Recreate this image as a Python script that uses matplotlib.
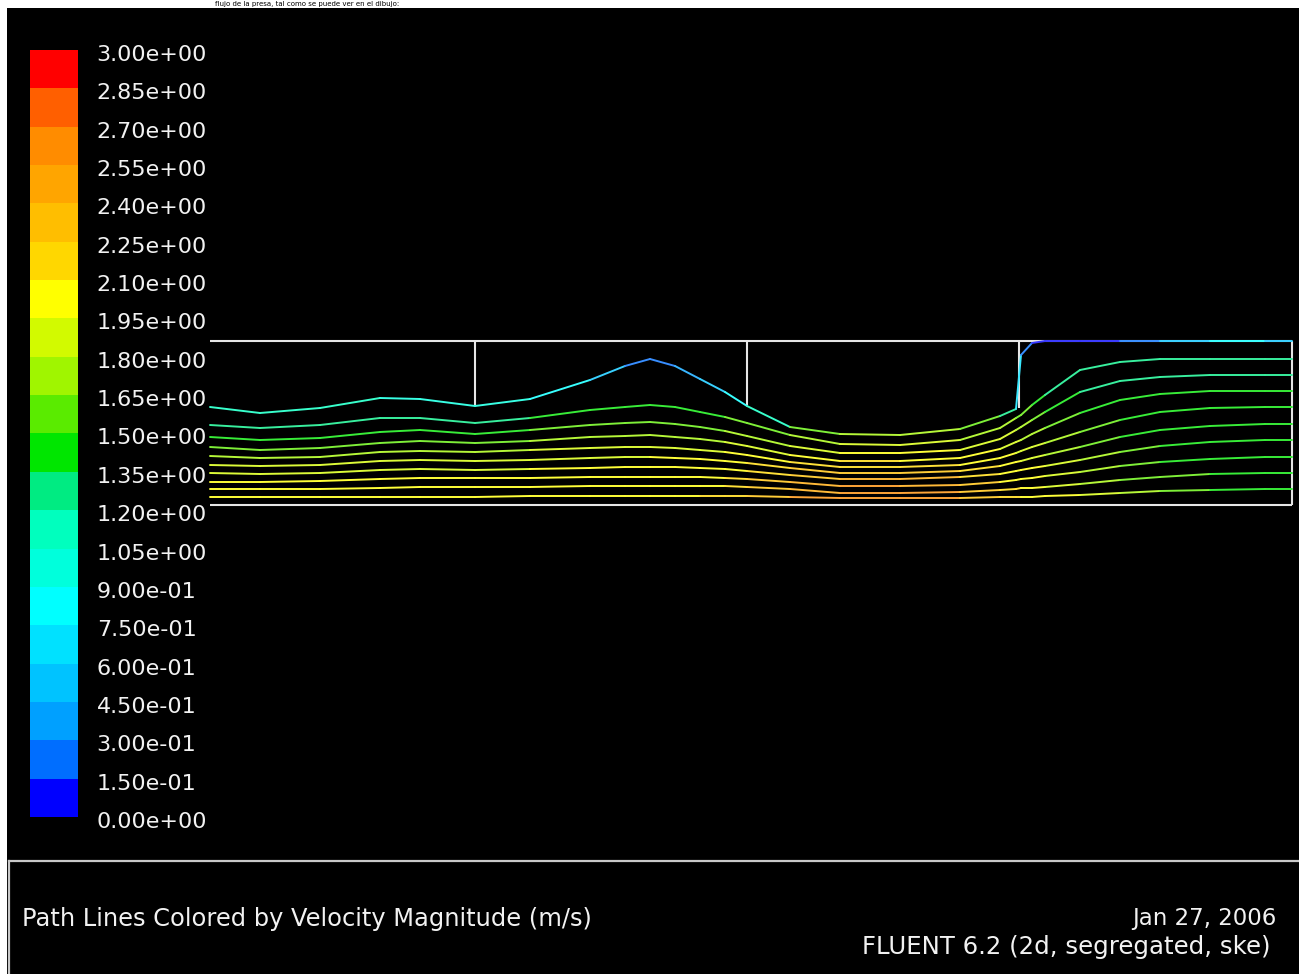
import matplotlib
matplotlib.use("Agg")
import matplotlib.pyplot as plt
import numpy as np
from matplotlib.collections import LineCollection
from matplotlib.colors import ListedColormap, BoundaryNorm, to_rgba_array
from matplotlib.cm import ScalarMappable
from matplotlib.patches import Rectangle
from matplotlib.transforms import ScaledTranslation

# colour bands of the legend, 0.00 -> 3.00 m/s
levels = [0.00, 0.15, 0.30, 0.45, 0.60, 0.75, 0.90, 1.05, 1.20, 1.35, 1.50,
          1.65, 1.80, 1.95, 2.10, 2.25, 2.40, 2.55, 2.70, 2.85, 3.00]
band_colors = ['#0000ff', '#006eff', '#00a0ff', '#00c3ff', '#00e1ff',
               '#00ffff', '#00ffdc', '#00ffbe', '#00eb82', '#00e600',
               '#5aeb00', '#a0f500', '#d2fa00', '#ffff00', '#ffd700',
               '#ffbe00', '#ffa500', '#ff8c00', '#ff5f00', '#ff0000']

# channel geometry [cm]
channel_len = 1082
channel_h = 164
gate_x = [265, 537, 809]
gate_bottom = [100, 100, 97]

# path lines: shared stations along the channel [cm]
x_st = [0, 50, 110, 170, 210, 265, 320, 380, 415, 440, 465, 490, 515, 537, 580,
        630, 690, 750, 790, 806, 811, 822, 835, 870, 910, 950, 1000, 1055, 1082]

y_lines = [
    [98, 92, 97, 107, 106, 99, 106, 125, 139, 146, 139, 126, 113, 99, 78, 71, 70, 76, 89, 96, 150, 162, 164, 164, 164, 164, 164, 164, 164],
    [80, 77, 80, 87, 87, 82, 87, 95, 98, 100, 98, 93, 88, 82, 70, 61, 60, 65, 77, 87, 90, 100, 110, 135, 143, 146, 146, 146, 146],
    [68, 65, 67, 73, 75, 71, 75, 80, 82, 83, 81, 78, 74, 69, 59, 52, 52, 55, 66, 75, 78, 85, 93, 113, 124, 128, 130, 130, 130],
    [58, 55, 57, 62, 64, 62, 64, 68, 69, 70, 68, 66, 63, 59, 50, 44, 44, 47, 56, 63, 65, 71, 77, 92, 105, 111, 114, 114, 114],
    [49, 47, 48, 53, 54, 53, 55, 57, 58, 58, 57, 55, 53, 50, 43, 38, 38, 40, 47, 52, 54, 58, 62, 73, 85, 93, 97, 98, 98],
    [40, 39, 40, 44, 45, 44, 45, 47, 48, 48, 47, 46, 44, 42, 37, 32, 32, 34, 39, 43, 44, 47, 50, 58, 68, 75, 79, 81, 81],
    [32, 31, 32, 35, 36, 35, 36, 37, 38, 38, 38, 37, 36, 34, 30, 26, 26, 28, 31, 34, 35, 37, 39, 45, 53, 59, 63, 65, 65],
    [23, 23, 24, 26, 27, 27, 27, 28, 28, 28, 28, 28, 27, 26, 23, 19, 19, 20, 23, 25, 26, 27, 29, 33, 39, 43, 46, 48, 48],
    [16, 16, 16, 17, 18, 18, 18, 19, 19, 19, 19, 19, 19, 18, 16, 12, 12, 13, 15, 16, 17, 17, 18, 21, 25, 28, 31, 32, 32],
    [8, 8, 8, 8, 8, 8, 9, 9, 9, 9, 9, 9, 9, 9, 8, 7, 7, 7, 8, 8, 8, 8, 9, 10, 12, 14, 15, 16, 16],
]

# velocity magnitude along each path line [m/s]
v_lines = [
    [1.15, 1.1, 1.1, 1.0, 1.0, 1.05, 0.9, 0.6, 0.35, 0.2, 0.25, 0.4, 0.65, 0.9, 1.3, 1.7, 1.75, 1.7, 1.4, 1.0, 0.3, 0.15, 0.1, 0.1, 0.1, 0.2, 0.85, 0.85, 0.3],
    [1.35, 1.3, 1.3, 1.25, 1.25, 1.3, 1.35, 1.4, 1.4, 1.4, 1.42, 1.45, 1.5, 1.55, 1.7, 1.85, 1.9, 1.8, 1.7, 1.6, 1.55, 1.45, 1.35, 1.25, 1.2, 1.2, 1.2, 1.2, 1.2],
    [1.45, 1.45, 1.45, 1.45, 1.45, 1.45, 1.5, 1.55, 1.58, 1.6, 1.6, 1.6, 1.65, 1.7, 1.85, 2.0, 2.0, 1.95, 1.85, 1.75, 1.7, 1.6, 1.5, 1.35, 1.3, 1.3, 1.3, 1.3, 1.3],
    [1.55, 1.55, 1.55, 1.55, 1.55, 1.6, 1.65, 1.7, 1.72, 1.75, 1.75, 1.75, 1.8, 1.85, 2.0, 2.1, 2.15, 2.05, 1.95, 1.85, 1.8, 1.75, 1.65, 1.45, 1.35, 1.35, 1.35, 1.35, 1.35],
    [1.7, 1.7, 1.7, 1.7, 1.7, 1.75, 1.8, 1.85, 1.85, 1.85, 1.88, 1.9, 1.95, 2.0, 2.1, 2.2, 2.25, 2.15, 2.0, 1.95, 1.9, 1.85, 1.8, 1.6, 1.45, 1.4, 1.38, 1.38, 1.38],
    [1.85, 1.85, 1.85, 1.85, 1.85, 1.85, 1.9, 1.9, 1.92, 1.95, 1.95, 1.95, 2.0, 2.05, 2.2, 2.3, 2.35, 2.2, 2.05, 2.0, 1.95, 1.9, 1.85, 1.7, 1.5, 1.42, 1.4, 1.4, 1.4],
    [1.9, 1.9, 1.9, 1.9, 1.9, 1.9, 1.95, 1.95, 1.98, 2.0, 2.0, 2.0, 2.05, 2.1, 2.3, 2.45, 2.5, 2.3, 2.1, 2.05, 2.0, 2.0, 1.9, 1.75, 1.6, 1.45, 1.42, 1.42, 1.42],
    [1.95, 1.95, 1.95, 1.95, 1.95, 1.95, 2.0, 2.0, 2.0, 2.0, 2.02, 2.05, 2.1, 2.15, 2.4, 2.55, 2.6, 2.4, 2.15, 2.05, 2.05, 2.0, 1.95, 1.8, 1.65, 1.5, 1.45, 1.45, 1.45],
    [2.0, 2.0, 2.0, 2.0, 2.0, 2.0, 2.0, 2.0, 2.02, 2.05, 2.05, 2.05, 2.12, 2.2, 2.45, 2.6, 2.65, 2.45, 2.2, 2.1, 2.1, 2.05, 2.0, 1.85, 1.7, 1.55, 1.45, 1.45, 1.45],
    [2.0, 2.0, 2.0, 2.0, 2.0, 2.0, 2.0, 2.05, 2.05, 2.05, 2.08, 2.1, 2.17, 2.25, 2.5, 2.65, 2.7, 2.5, 2.25, 2.15, 2.1, 2.05, 2.0, 1.9, 1.75, 1.6, 1.5, 1.45, 1.45],
]

W, H = 1299, 974
fig = plt.figure(figsize=(W / 100, H / 100), dpi=100, facecolor='white')
text_col = '#f2f2f2'

# caption of the page above the screenshot (only a thin strip is left)
fig.text(215 / W, 1 - 4 / H, 'flujo de la presa, tal como se puede ver en el dibujo:',
         color='black', fontsize=5, va='center', ha='left')

# black graphics window
fig.add_artist(Rectangle((7 / W, 0), 1 - 7 / W, 1 - 8 / H, transform=fig.transFigure,
                         facecolor='black', edgecolor='none', zorder=-1))
# frame of the title box at the bottom
fig.add_artist(plt.Line2D([9 / W, 1], [1 - 861 / H, 1 - 861 / H], color='#c8c8c8',
                          lw=1.6, transform=fig.transFigure))
fig.add_artist(plt.Line2D([9 / W, 9 / W], [0, 1 - 861 / H], color='#c8c8c8',
                          lw=1.6, transform=fig.transFigure))

cmap = ListedColormap(band_colors)
norm = BoundaryNorm(levels, cmap.N)

# colour legend
cax = fig.add_axes([30 / W, 1 - 817 / H, 48 / W, 767 / H])
cb = fig.colorbar(ScalarMappable(norm=norm, cmap=cmap), cax=cax, ticks=levels, format='%.2e')
cb.outline.set_visible(False)
cax.tick_params(length=0, pad=13.5, labelsize=16, labelcolor=text_col)
shift = ScaledTranslation(0, -3 / 100, fig.dpi_scale_trans)
for t in cax.get_yticklabels():
    t.set_transform(t.get_transform() + shift)

# channel with the path lines
ax = fig.add_axes([210 / W, 1 - 505 / H, 1082 / W, 164 / H])
ax.set_xlim(0, channel_len)
ax.set_ylim(0, channel_h)
ax.axis('off')
ax.patch.set_alpha(0)

wall = dict(color='#e6e6e6', lw=1.5, clip_on=False, solid_capstyle='butt')
ax.plot([0, channel_len], [channel_h, channel_h], **wall)
ax.plot([0, channel_len], [0, 0], **wall)
ax.plot([channel_len, channel_len], [0, channel_h], **wall)
for gx, gb in zip(gate_x, gate_bottom):
    ax.plot([gx, gx], [channel_h, gb], **wall)

xs = np.array(x_st, dtype=float)
for ys, vs in zip(y_lines, v_lines):
    pts = np.column_stack([xs, np.array(ys, dtype=float)])
    segs = np.stack([pts[:-1], pts[1:]], axis=1)
    vs = np.array(vs)
    vmid = 0.5 * (vs[:-1] + vs[1:])
    cols = cmap(norm(vmid))
    cols[:, :3] = 0.78 * cols[:, :3] + 0.22  # thin lines look washed out
    lc = LineCollection(segs, colors=cols, linewidths=1.4,
                        clip_on=False, capstyle='round', joinstyle='round')
    ax.add_collection(lc)

# title box texts
fig.text(22 / W, 1 - 919 / H, 'Path Lines Colored by Velocity Magnitude (m/s)',
         color=text_col, fontsize=17.4, va='center', ha='left')
fig.text(1277 / W, 1 - 919 / H, 'Jan 27, 2006',
         color=text_col, fontsize=16.5, va='center', ha='right')
fig.text(1271 / W, 1 - 947 / H, 'FLUENT 6.2 (2d, segregated, ske)',
         color=text_col, fontsize=17.6, va='center', ha='right')

fig.savefig('out.png', dpi=100, facecolor=fig.get_facecolor())
